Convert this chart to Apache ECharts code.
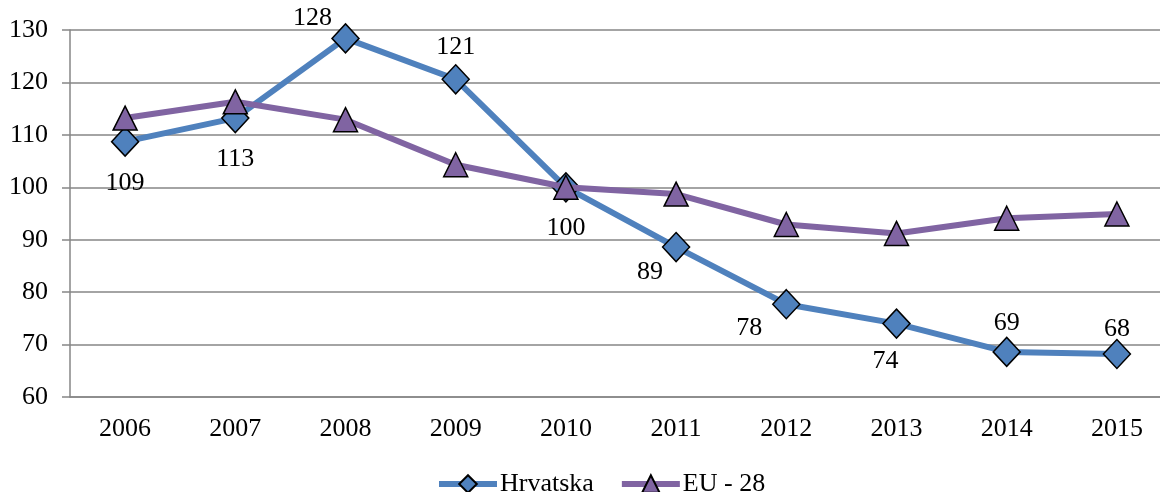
<!DOCTYPE html>
<html>
<head>
<meta charset="utf-8">
<script src="https://cdn.jsdelivr.net/npm/echarts@6/dist/echarts.min.js"></script>
<style>
  html, body { margin: 0; padding: 0; background: #fff; }
  #chart { width: 1160px; height: 492px; }
</style>
</head>
<body>
<div id="chart"></div>
<script>
const years = ['2006', '2007', '2008', '2009', '2010', '2011', '2012', '2013', '2014', '2015'];
const hrvatska = [108.7, 113.2, 128.4, 120.6, 100.0, 88.6, 77.7, 74.0, 68.6, 68.2];
const eu28 = [113.2, 116.3, 112.9, 104.3, 100.0, 98.7, 92.9, 91.2, 94.1, 94.9];
// label offsets for Hrvatska values (px from marker centre)
const labelOffsets = [[0, 41], [0, 41], [-33, -20], [0, -32], [0, 41], [-26, 25], [-37, 24], [-11, 38], [0, -29], [0, -25]];

const font = 'Liberation Serif';

const chart = echarts.init(document.getElementById('chart'), null, { renderer: 'canvas' });

chart.setOption({
    animation: false,
    textStyle: { fontFamily: font },
    grid: { left: 70, width: 1102, top: 30, height: 367, outerBoundsMode: 'none', containLabel: false },
    legend: {
        top: 471,
        left: 436,
        padding: 0,
        itemWidth: 58,
        itemHeight: 22,
        itemGap: 25,
        lineStyle: { width: 6 },
        textStyle: { fontFamily: font, fontSize: 26, color: '#000', padding: [0, 0, 0, -2] },
        data: ['Hrvatska', 'EU - 28']
    },
    xAxis: {
        type: 'category',
        data: years,
        boundaryGap: true,
        axisLine: { lineStyle: { color: '#868686', width: 1.5 } },
        axisTick: { length: 7, lineStyle: { color: '#868686', width: 1.5 } },
        axisLabel: { fontFamily: font, fontSize: 26, color: '#000', margin: 19 }
    },
    yAxis: {
        type: 'value',
        min: 60,
        max: 130,
        interval: 10,
        axisLine: { show: true, lineStyle: { color: '#868686', width: 1.5 } },
        axisTick: { show: true, length: 8, lineStyle: { color: '#868686', width: 1.5 } },
        axisLabel: { fontFamily: font, fontSize: 26, color: '#000', margin: 22 },
        splitLine: { lineStyle: { color: '#868686', width: 1.5 } }
    },
    series: [
        {
            name: 'Hrvatska',
            type: 'line',
            data: hrvatska.map((v, i) => ({
                value: v,
                label: { offset: labelOffsets[i] }
            })),
            symbol: 'diamond',
            symbolSize: [27, 29],
            lineStyle: { color: '#4F81BD', width: 6 },
            itemStyle: { color: '#4F81BD', borderColor: '#000', borderWidth: 1.5 },
            label: {
                show: true,
                position: 'inside',
                fontFamily: font,
                fontSize: 26,
                color: '#000',
                formatter: (p) => Math.round(p.value)
            },
            z: 2
        },
        {
            name: 'EU - 28',
            type: 'line',
            data: eu28,
            symbol: 'triangle',
            symbolSize: [24, 24],
            lineStyle: { color: '#8064A2', width: 6 },
            itemStyle: { color: '#8064A2', borderColor: '#000', borderWidth: 1.5 },
            z: 3
        }
    ]
});
</script>
</body>
</html>
